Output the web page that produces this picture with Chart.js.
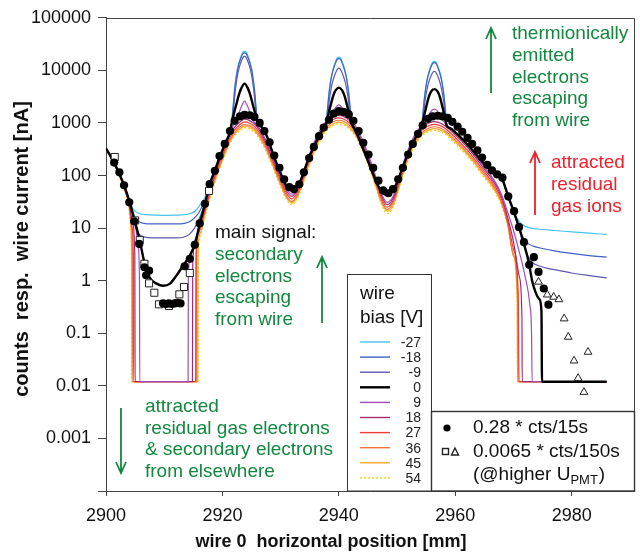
<!DOCTYPE html>
<html>
<head>
<meta charset="utf-8">
<script src="https://cdn.jsdelivr.net/npm/chart.js@4.4.0/dist/chart.umd.min.js"></script>
<style>
  html, body { margin: 0; padding: 0; background: #fff; }
  #wrap { width: 640px; height: 554px; }
</style>
</head>
<body>
<div id="wrap"><canvas id="wireChart" width="640" height="554"></canvas></div>
<script>
// axis ticks
const xTickValues = [2900, 2920, 2940, 2960, 2980];
const yTickValues = [1e-4, 1e-3, 1e-2, 1e-1, 1, 10, 100, 1000, 10000, 100000];
const yTickLabels = ['', '0.001', '0.01', '0.1', '1', '10', '100', '1000', '10000', '100000'];

// wire bias series names
const biasLabels = ['-27', '-18', '-9', '0', '9', '18', '27', '36', '45', '54'];

// pieces where the negative / zero bias curves coincide  [mm, nA]
const envLeftTop = [[2900,330],[2901,212],[2902,128],[2903,70],[2904,33]];
const envRise1 = [[2917.8,68],[2918.7,125],[2919.5,220],[2920.4,390],[2921.3,680]];
const envValley1 = [[2926.4,920],[2926.9,790],[2927.4,640],[2927.9,470],[2928.4,320],[2928.9,225],[2929.4,160],[2929.9,118],[2930.4,86],[2930.9,66],[2931.4,56],[2931.9,53],[2932.4,56],[2932.9,64],[2933.4,79],[2933.9,110],[2934.4,160],[2934.9,225],[2935.4,300],[2935.9,390],[2936.4,510],[2936.9,640],[2937.4,800]];
const envValley2 = [[2942.6,800],[2943.1,620],[2943.7,430],[2944.3,295],[2944.8,215],[2945.3,155],[2945.8,112],[2946.3,82],[2946.8,62],[2947.3,50],[2947.8,44],[2948.3,43],[2948.8,45],[2949.3,53],[2949.8,66],[2950.3,90],[2950.8,130],[2951.3,180],[2951.8,250],[2952.3,330],[2952.8,430],[2953.3,560],[2953.8,700]];
const envFall3 = [[2959.1,800],[2960,660],[2961,520],[2962,400],[2963,300],[2964,220],[2965,165],[2966,125],[2967,100],[2968.1,83]];

// -27 V
const m27Valley = [[2904.5,25],[2905,21],[2905.7,19],[2907,18],[2910,17.5],[2913,17.8],[2914.5,19],[2915.3,21],[2916,26],[2916.6,33],[2917.2,42]];
const m27Peak1 = [[2921.6,1100],[2921.85,2200],[2922.1,4600],[2922.35,7500],[2922.6,11000],[2922.95,15500],[2923.3,19800],[2923.5,22200],[2923.8,23000],[2924.1,22200],[2924.3,19800],[2924.65,15500],[2925,11000],[2925.25,7500],[2925.5,4600],[2925.75,2200],[2926,1100]];
const m27Peak2 = [[2937.8,960],[2938.05,1900],[2938.3,3700],[2938.55,6000],[2938.8,8600],[2939.15,12000],[2939.5,15300],[2939.7,17200],[2940,17800],[2940.3,17200],[2940.5,15300],[2940.85,12000],[2941.2,8600],[2941.45,6000],[2941.7,3700],[2941.95,1900],[2942.2,960]];
const m27Peak3 = [[2954.2,850],[2954.45,1600],[2954.7,3100],[2954.95,5000],[2955.2,7200],[2955.55,10000],[2955.9,12800],[2956.1,14300],[2956.4,14800],[2956.7,14300],[2956.9,12800],[2957.25,10000],[2957.6,7200],[2957.85,5000],[2958.1,3100],[2958.35,1600],[2958.6,850]];
const m27Tail = [[2969,42],[2969.8,24],[2970.5,16],[2971.2,12.5],[2972,10.8],[2973,10],[2975,9.4],[2977,9],[2980,8.5],[2983,8],[2986,7.6]];

// -18 V
const m18Valley = [[2904.5,21],[2905,15.5],[2905.6,13.3],[2906.5,12.3],[2908,12],[2912,12],[2913.5,12.3],[2914.5,13.5],[2915.3,16],[2916,20],[2916.6,27],[2917.2,38]];
const m18Peak1 = [[2921.6,1050],[2921.85,2000],[2922.1,4200],[2922.35,7000],[2922.6,10300],[2922.95,14500],[2923.3,18500],[2923.5,20700],[2923.8,21500],[2924.1,20700],[2924.3,18500],[2924.65,14500],[2925,10300],[2925.25,7000],[2925.5,4200],[2925.75,2000],[2926,1050]];
const m18Peak2 = [[2937.8,960],[2938.05,1800],[2938.3,3500],[2938.55,5700],[2938.8,8100],[2939.15,11300],[2939.5,14400],[2939.7,16200],[2940,16800],[2940.3,16200],[2940.5,14400],[2940.85,11300],[2941.2,8100],[2941.45,5700],[2941.7,3500],[2941.95,1800],[2942.2,960]];
const m18Peak3 = [[2954.2,850],[2954.45,1500],[2954.7,2900],[2954.95,4700],[2955.2,6800],[2955.55,9500],[2955.9,12100],[2956.1,13500],[2956.4,14000],[2956.7,13500],[2956.9,12100],[2957.25,9500],[2957.6,6800],[2957.85,4700],[2958.1,2900],[2958.35,1500],[2958.6,850]];
const m18Tail = [[2969,41],[2970,20],[2970.8,11],[2971.5,7],[2972.3,5.3],[2973.5,4.5],[2975,4.1],[2977,3.7],[2980,3.3],[2983,3],[2986,2.8]];

// -9 V
const m9Valley = [[2904.6,17],[2905.1,10],[2905.7,7.6],[2906.5,6.8],[2908,6.5],[2912,6.5],[2913.3,6.7],[2914.3,7.6],[2915.2,10],[2916,15],[2916.6,22],[2917.2,35]];
const m9Peak1 = [[2921.7,1100],[2921.95,2100],[2922.2,4000],[2922.45,6500],[2922.7,9300],[2923.05,13000],[2923.4,16300],[2923.6,18000],[2923.8,18500],[2924,18000],[2924.2,16300],[2924.55,13000],[2924.9,9300],[2925.15,6500],[2925.4,4000],[2925.65,2100],[2925.9,1100]];
const m9Peak2 = [[2937.9,1000],[2938.15,1700],[2938.4,2900],[2938.65,4300],[2938.9,5900],[2939.25,7900],[2939.6,9800],[2939.8,10700],[2940,11000],[2940.2,10700],[2940.4,9800],[2940.75,7900],[2941.1,5900],[2941.35,4300],[2941.6,2900],[2941.85,1700],[2942.1,1000]];
const m9Peak3 = [[2954.3,900],[2954.55,1500],[2954.8,2600],[2955.05,3800],[2955.3,5200],[2955.65,7000],[2956,8600],[2956.2,9400],[2956.4,9600],[2956.6,9400],[2956.8,8600],[2957.15,7000],[2957.5,5200],[2957.75,3800],[2958,2600],[2958.25,1500],[2958.5,900]];
const m9Tail = [[2969,40],[2970.1,20],[2971,9.5],[2971.7,5],[2972.4,3],[2973.3,2.2],[2974.5,1.9],[2976,1.7],[2978,1.55],[2980,1.4],[2983,1.25],[2986,1.13]];

// 0 V
const zeroValley = [[2905,13],[2905.8,5.8],[2906.6,2.2],[2907.5,1.15],[2908.7,0.88],[2909.8,0.8],[2911,0.88],[2912.1,1.25],[2913.2,1.9],[2914.4,3.0],[2915.3,5.0],[2916.1,12],[2917,29]];
const zeroPeak1 = [[2921.6,1000],[2922,1550],[2922.45,2400],[2922.85,3500],[2923.25,4600],[2923.8,5600],[2924.35,4600],[2924.75,3500],[2925.15,2400],[2925.6,1550],[2926,1100]];
const zeroPeak2 = [[2937.8,960],[2938.2,1450],[2938.6,2200],[2939,3200],[2939.4,4100],[2940,4700],[2940.6,4100],[2941,3200],[2941.4,2200],[2941.8,1450],[2942.2,960]];
const zeroPeak3 = [[2954.2,850],[2954.6,1300],[2955,2000],[2955.4,3000],[2955.8,3900],[2956.4,4400],[2957,3900],[2957.4,3000],[2957.8,2000],[2958.2,1300],[2958.6,850]];
const zeroTail = [[2969.1,40],[2970.1,20],[2971,10],[2971.8,5],[2972.6,2.3],[2973.2,1.0],[2973.8,0.6],[2974.4,0.45],[2974.8,0.27],[2974.9,0.012],[2986,0.012]];

// positive bias curves
const curve9 = [[2900,330],[2901,212],[2902,127],[2903,70],[2904,32],[2905,12],[2905.5,5],[2905.75,1],[2905.8,0.012],[2914.1,0.012],[2914.15,1.2],[2914.6,3.5],[2915.3,6],[2916,10],[2916.5,17],[2917,27],[2918,67],[2919,146],[2920,293],[2921,549],[2921.8,850],[2922.3,1100],[2922.8,1500],[2923.3,2100],[2923.8,2600],[2924.3,2100],[2924.8,1500],[2925.3,1100],[2926.4,780],[2927.3,512],[2928.2,305],[2929.1,171],[2930,98],[2930.9,59],[2931.9,44],[2932.8,56],[2933.7,98],[2934.6,195],[2935.5,366],[2936.4,610],[2937.3,927],[2938.5,1250],[2939,1650],[2939.5,2000],[2940,2200],[2940.5,2000],[2941,1650],[2941.5,1250],[2942.7,927],[2943.6,610],[2944.5,366],[2945.4,195],[2946.3,98],[2947.2,49],[2948.3,31],[2949.3,40],[2950.2,79],[2951.1,171],[2952,329],[2952.9,549],[2953.8,780],[2954.9,1100],[2955.4,1400],[2955.9,1700],[2956.4,1830],[2956.9,1700],[2957.4,1400],[2957.9,1100],[2959.1,805],[2960,647],[2961,500],[2962,378],[2963,281],[2964,201],[2965,144],[2966,104],[2967,71],[2968,42],[2969,20],[2970,9],[2971,3.5],[2972,1.2],[2972.8,0.35],[2973.1,0.1],[2973.2,0.012],[2986,0.012]];
const curve18 = [[2900,325],[2901,210],[2902,125],[2903,68],[2904,30],[2904.6,12],[2904.95,3],[2905,0.012],[2914.85,0.012],[2914.9,2],[2915.4,6],[2916,11],[2916.5,16],[2917,25],[2918,62],[2919,135],[2920,270],[2921,505],[2922,805],[2923,1040],[2923.8,1180],[2924.6,1120],[2925.5,965],[2926.4,715],[2927.3,470],[2928.2,280],[2929.1,157],[2930,90],[2930.9,54],[2931.9,40],[2932.8,52],[2933.7,90],[2934.6,180],[2935.5,335],[2936.4,560],[2937.3,850],[2938.2,1120],[2939.1,1320],[2940,1390],[2940.9,1320],[2941.8,1120],[2942.7,850],[2943.6,560],[2944.5,335],[2945.4,180],[2946.3,90],[2947.2,45],[2948.3,28],[2949.3,37],[2950.2,73],[2951.1,157],[2952,300],[2952.9,505],[2953.8,715],[2954.7,895],[2955.6,1010],[2956.4,1060],[2957.3,1010],[2958.2,895],[2959.1,740],[2960,595],[2961,460],[2962,350],[2963,258],[2964,185],[2965,132],[2966,95],[2967,65],[2968,38],[2969,16],[2970,5.5],[2971,1.2],[2971.45,0.2],[2971.5,0.012],[2986,0.012]];
const curve27 = [[2900,320],[2901,205],[2902,122],[2903,65],[2904,27],[2904.5,10],[2904.7,3],[2904.75,0.012],[2915.4,0.012],[2915.45,3],[2915.9,8],[2916.5,14],[2917,22],[2918,55],[2919,120],[2920,240],[2921,450],[2922,720],[2923,930],[2923.8,1050],[2924.6,1000],[2925.5,860],[2926.4,640],[2927.3,420],[2928.2,250],[2929.1,140],[2930,80],[2930.9,48],[2931.9,36],[2932.8,46],[2933.7,80],[2934.6,160],[2935.5,300],[2936.4,500],[2937.3,760],[2938.2,1000],[2939.1,1180],[2940,1250],[2940.9,1180],[2941.8,1000],[2942.7,760],[2943.6,500],[2944.5,300],[2945.4,160],[2946.3,80],[2947.2,40],[2948.3,25],[2949.3,33],[2950.2,65],[2951.1,140],[2952,270],[2952.9,450],[2953.8,640],[2954.7,800],[2955.6,900],[2956.4,940],[2957.3,900],[2958.2,800],[2959.1,660],[2960,530],[2961,410],[2962,310],[2963,230],[2964,165],[2965,118],[2966,85],[2967,58],[2968,34],[2969,14],[2970,4],[2970.8,0.6],[2970.95,0.012],[2986,0.012]];
const curve36 = [[2900,318],[2901,203],[2902,120],[2903,63],[2904,26],[2904.4,10],[2904.55,2],[2904.6,0.012],[2915.5,0.012],[2915.55,3],[2916,9],[2916.5,13],[2917,20],[2918,50],[2919,108],[2920,216],[2921,405],[2922,650],[2923,840],[2923.8,930],[2924.6,900],[2925.5,775],[2926.4,575],[2927.3,380],[2928.2,225],[2929.1,126],[2930,72],[2930.9,43],[2931.9,32],[2932.8,41],[2933.7,72],[2934.6,144],[2935.5,270],[2936.4,450],[2937.3,684],[2938.2,900],[2939.1,1062],[2940,1125],[2940.9,1062],[2941.8,900],[2942.7,684],[2943.6,450],[2944.5,270],[2945.4,144],[2946.3,72],[2947.2,36],[2948.3,22.5],[2949.3,30],[2950.2,58],[2951.1,126],[2952,243],[2952.9,405],[2953.8,576],[2954.7,720],[2955.6,810],[2956.4,846],[2957.3,810],[2958.2,720],[2959.1,594],[2960,477],[2961,369],[2962,279],[2963,207],[2964,149],[2965,106],[2966,77],[2967,52],[2968,30],[2969,12],[2970,3],[2970.75,0.4],[2970.8,0.012],[2986,0.012]];
const curve45 = [[2900,315],[2901,200],[2902,118],[2903,61],[2904,24],[2904.3,10],[2904.42,2],[2904.45,0.012],[2915.75,0.012],[2915.8,3],[2916.2,8],[2916.6,12],[2917,18],[2918,46],[2919,100],[2920,199],[2921,374],[2922,598],[2923,772],[2923.8,872],[2924.6,830],[2925.5,714],[2926.4,531],[2927.3,349],[2928.2,208],[2929.1,116],[2930,66],[2930.9,40],[2931.9,30],[2932.8,38],[2933.7,66],[2934.6,133],[2935.5,249],[2936.4,415],[2937.3,631],[2938.2,830],[2939.1,979],[2940,1038],[2940.9,979],[2941.8,830],[2942.7,631],[2943.6,415],[2944.5,249],[2945.4,133],[2946.3,66],[2947.2,33],[2948.3,21],[2949.3,27],[2950.2,54],[2951.1,116],[2952,224],[2952.9,374],[2953.8,531],[2954.7,664],[2955.6,747],[2956.4,780],[2957.3,747],[2958.2,664],[2959.1,548],[2960,440],[2961,340],[2962,257],[2963,191],[2964,137],[2965,98],[2966,71],[2967,48],[2968,28],[2969,12],[2970,3],[2970.65,0.4],[2970.7,0.012],[2986,0.012]];
const curve54 = [[2900,312],[2901,197],[2902,116],[2903,59],[2904,22],[2904.28,9],[2904.38,2],[2904.4,0.012],[2915.8,0.012],[2915.85,3],[2916.2,7],[2916.6,11],[2917,17],[2918,42],[2919,92],[2920,185],[2921,347],[2922,554],[2923,716],[2923.8,809],[2924.6,770],[2925.5,662],[2926.4,493],[2927.3,323],[2928.2,193],[2929.1,108],[2930,62],[2930.9,37],[2931.9,28],[2932.8,35],[2933.7,62],[2934.6,123],[2935.5,231],[2936.4,385],[2937.3,585],[2938.2,770],[2939.1,909],[2940,963],[2940.9,909],[2941.8,770],[2942.7,585],[2943.6,385],[2944.5,231],[2945.4,123],[2946.3,62],[2947.2,31],[2948.3,19],[2949.3,25],[2950.2,50],[2951.1,108],[2952,208],[2952.9,347],[2953.8,493],[2954.7,616],[2955.6,693],[2956.4,724],[2957.3,693],[2958.2,616],[2959.1,508],[2960,408],[2961,316],[2962,239],[2963,177],[2964,127],[2965,91],[2966,65],[2967,45],[2968,26],[2969,11],[2970,3],[2970.65,0.4],[2970.7,0.012],[2986,0.012]];

// measured points
const dots15s = [[2901.4,176],[2902.3,115],[2903.1,65],[2904,31],[2904.85,13.5],[2905.7,5],[2906.6,1.8],[2906.9,1.27],[2907.4,1.55],[2909.8,0.37],[2910.3,0.36],[2910.8,0.37],[2911.3,0.36],[2911.8,0.37],[2912.3,0.38],[2912.8,0.37],[2913.5,1.88],[2914.4,2.6],[2915.25,4.8],[2916.1,12.3],[2917,29],[2917.8,69],[2918.7,123],[2919.5,235],[2920.4,400],[2921.3,700],[2922.1,1100],[2923,1330],[2923.8,1420],[2924.7,1400],[2925.5,1300],[2926.4,1000],[2927.2,700],[2928.1,430],[2928.9,240],[2929.8,140],[2930.6,85],[2931.5,60],[2932.3,55],[2933.2,68],[2934,115],[2934.9,215],[2935.7,350],[2936.6,560],[2937.4,820],[2938.3,1150],[2939.1,1500],[2940,1680],[2940.8,1620],[2941.7,1450],[2942.5,1100],[2943.4,700],[2944.2,420],[2945.1,250],[2945.9,140],[2946.8,80],[2947.6,52],[2948.5,46],[2949.3,55],[2950.2,85],[2951,140],[2951.9,250],[2952.7,400],[2953.6,620],[2954.4,900],[2955.3,1200],[2956.1,1330],[2957,1370],[2957.8,1330],[2958.7,1250],[2959.5,1050],[2960.4,850],[2961.2,680],[2962.1,520],[2962.9,400],[2963.8,300],[2964.6,220],[2965.5,160],[2966.3,125],[2967.2,105],[2968.1,91],[2969.1,40],[2970.1,21],[2970.95,10.4],[2971.8,5.4],[2972.7,2.0],[2973.5,2.8],[2974.3,1.47],[2975.2,0.71],[2976,0.35]];
const squares150s = [[2901.5,225],[2905,14],[2905.8,5.9],[2906.6,2.1],[2907.4,0.89],[2908.3,0.59],[2909.1,0.355],[2910.8,0.33],[2912.6,0.55],[2913.4,0.76],[2914.4,1.4],[2917.7,51]];
const triangles150s = [[2974.3,0.95],[2975.8,0.54],[2976.9,0.49],[2977.8,0.44],[2978.7,0.19],[2979.4,0.085],[2980.4,0.03],[2981.1,0.014],[2982.1,0.0076],[2982.8,0.044]];

const curveM27 = [].concat(envLeftTop, m27Valley, envRise1, m27Peak1, envValley1, m27Peak2, envValley2, m27Peak3, envFall3, m27Tail);
const curveM18 = [].concat(envLeftTop, m18Valley, envRise1, m18Peak1, envValley1, m18Peak2, envValley2, m18Peak3, envFall3, m18Tail);
const curveM9 = [].concat(envLeftTop, m9Valley, envRise1, m9Peak1, envValley1, m9Peak2, envValley2, m9Peak3, envFall3, m9Tail);
const curve0 = [].concat(envLeftTop, zeroValley, envRise1, zeroPeak1, envValley1, zeroPeak2, envValley2, zeroPeak3, envFall3, zeroTail);

const curves = [curveM27, curveM18, curveM9, curve0, curve9, curve18, curve27, curve36, curve45, curve54];
const biasColors = ['#45c4ee', '#4062c4', '#5c58b0', '#000000', '#a24cbc', '#a02a70', '#f03c3c', '#f2743a', '#f8a82c', '#f2d414'];
const biasWidths = [1.2, 1.2, 1.2, 2.4, 1.2, 1.2, 1.2, 1.2, 1.2, 1.4];

const green = '#12883e';
const red = '#f0202c';
const fontFam = "'Liberation Sans', Arial, sans-serif";

function toXY(pts) {
    return pts.map(p => ({ x: p[0], y: p[1] }));
}

const datasets = [
    { label: 'dots', data: toXY(dots15s), showLine: false, pointStyle: 'circle', pointRadius: 4.1,
      backgroundColor: '#000', borderColor: '#000', borderWidth: 0 },
    { label: 'squares', data: toXY(squares150s), showLine: false, pointStyle: 'rect', pointRadius: 5,
      backgroundColor: '#fff', borderColor: '#222', borderWidth: 1 },
    { label: 'triangles', data: toXY(triangles150s), showLine: false, pointStyle: 'triangle', pointRadius: 4.5,
      backgroundColor: '#fff', borderColor: '#222', borderWidth: 1 }
];
// draw order: black on top, then the rest
[3, 4, 2, 1, 0, 5, 6, 7, 8, 9].forEach(i => {
    datasets.push({
        label: biasLabels[i],
        data: toXY(curves[i]),
        showLine: true,
        pointRadius: 0,
        borderColor: biasColors[i],
        borderWidth: biasWidths[i],
        borderDash: i === 9 ? [2, 2] : [],
        cubicInterpolationMode: 'monotone',
        fill: false
    });
});

function drawArrow(ctx, x, yFrom, yTo, color) {
    const dir = yTo < yFrom ? -1 : 1;
    ctx.strokeStyle = color;
    ctx.lineWidth = 1.8;
    ctx.beginPath();
    ctx.moveTo(x, yFrom);
    ctx.lineTo(x, yTo);
    ctx.moveTo(x - 5, yTo - dir * 11);
    ctx.lineTo(x, yTo);
    ctx.lineTo(x + 5, yTo - dir * 11);
    ctx.stroke();
}

function drawLines(ctx, lines, x, y0, step, color) {
    ctx.fillStyle = color;
    lines.forEach((t, i) => ctx.fillText(t, x, y0 + i * step));
}

const decorPlugin = {
    id: 'decor',
    beforeDraw(chart) {
        const ctx = chart.ctx;
        ctx.save();
        ctx.fillStyle = '#fff';
        ctx.fillRect(0, 0, chart.width, chart.height);
        ctx.restore();
    },
    afterDraw(chart) {
        const ctx = chart.ctx;
        const a = chart.chartArea;
        ctx.save();

        // frame top / right
        ctx.strokeStyle = '#444';
        ctx.lineWidth = 1;
        ctx.beginPath();
        ctx.moveTo(a.left, Math.round(a.top) + 0.5);
        ctx.lineTo(Math.round(a.right) + 0.5, Math.round(a.top) + 0.5);
        ctx.lineTo(Math.round(a.right) + 0.5, a.bottom);
        ctx.stroke();

        // axis titles
        ctx.fillStyle = '#111';
        ctx.font = 'bold 18px ' + fontFam;
        ctx.textAlign = 'center';
        ctx.textBaseline = 'middle';
        ctx.fillText('wire 0  horizontal position [mm]', 331, 542);
        ctx.save();
        ctx.translate(22, 249);
        ctx.rotate(-Math.PI / 2);
        ctx.font = 'bold 20px ' + fontFam;
        ctx.fillText('counts  resp.  wire current [nA]', 0, 0);
        ctx.restore();

        // annotations
        ctx.textAlign = 'left';
        ctx.font = '19px ' + fontFam;
        drawLines(ctx, ['thermionically', 'emitted', 'electrons', 'escaping', 'from wire'], 512, 34, 21.7, green);
        drawArrow(ctx, 491, 93, 28, green);

        drawLines(ctx, ['attracted', 'residual', 'gas ions'], 551, 163, 21.7, red);
        drawArrow(ctx, 535, 215, 152, red);

        ctx.fillStyle = '#111';
        ctx.fillText('main signal:', 215, 233);
        drawLines(ctx, ['secondary', 'electrons', 'escaping', 'from wire'], 215, 255, 21.5, green);
        drawArrow(ctx, 322, 323, 257, green);

        drawLines(ctx, ['attracted', 'residual gas electrons', '& secondary electrons', 'from elsewhere'], 145, 407, 21.6, green);
        drawArrow(ctx, 121, 408, 473, green);

        // legend box: wire bias
        ctx.fillStyle = '#fff';
        ctx.fillRect(347.5, 274.5, 84, a.bottom - 274.5);
        ctx.strokeStyle = '#333';
        ctx.lineWidth = 1;
        ctx.strokeRect(347.5, 274.5, 84, a.bottom - 274.5);
        ctx.fillStyle = '#111';
        ctx.font = '19px ' + fontFam;
        ctx.fillText('wire', 360, 294);
        ctx.fillText('bias [V]', 360, 318);
        ctx.font = '14px ' + fontFam;
        ctx.textAlign = 'right';
        biasLabels.forEach((lab, i) => {
            const y = 342 + i * 15.1;
            ctx.strokeStyle = biasColors[i];
            ctx.lineWidth = i === 3 ? 2.4 : 1.4;
            ctx.setLineDash(i === 9 ? [2, 2] : []);
            ctx.beginPath();
            ctx.moveTo(360, y);
            ctx.lineTo(390, y);
            ctx.stroke();
            ctx.setLineDash([]);
            ctx.fillStyle = '#222';
            ctx.fillText(lab, 421, y + 1);
        });

        // legend box: measured points
        ctx.fillStyle = '#fff';
        ctx.fillRect(431.5, 411.5, a.right - 431.5, a.bottom - 411.5);
        ctx.strokeStyle = '#333';
        ctx.strokeRect(431.5, 411.5, Math.round(a.right) - 431, a.bottom - 411.5);
        ctx.fillStyle = '#000';
        ctx.beginPath();
        ctx.arc(447, 428, 3.6, 0, Math.PI * 2);
        ctx.fill();
        ctx.strokeStyle = '#222';
        ctx.strokeRect(442.5, 448.5, 6, 6);
        ctx.beginPath();
        ctx.moveTo(455, 448);
        ctx.lineTo(458.5, 455);
        ctx.lineTo(451.5, 455);
        ctx.closePath();
        ctx.stroke();
        ctx.textAlign = 'left';
        ctx.fillStyle = '#111';
        ctx.font = '19px ' + fontFam;
        ctx.fillText('0.28 * cts/15s', 473, 428);
        ctx.fillText('0.0065 * cts/150s', 473, 452);
        const pre = '(@higher U';
        ctx.fillText(pre, 473, 475);
        let xx = 473 + ctx.measureText(pre).width;
        ctx.font = '13px ' + fontFam;
        ctx.fillText('PMT', xx, 480);
        xx += ctx.measureText('PMT').width;
        ctx.font = '19px ' + fontFam;
        ctx.fillText(')', xx + 1, 475);

        ctx.restore();
    }
};

const ctx = document.getElementById('wireChart').getContext('2d');
const wireChart = new Chart(ctx, {
    type: 'scatter',
    data: { datasets: datasets },
    options: {
        responsive: false,
        animation: false,
        devicePixelRatio: 1,
        layout: { padding: { top: 16, right: 5, left: 0, bottom: 0 } },
        plugins: {
            legend: { display: false },
            tooltip: { enabled: false }
        },
        scales: {
            x: {
                type: 'linear',
                min: 2900,
                max: 2990.7,
                afterBuildTicks: scale => { scale.ticks = xTickValues.map(v => ({ value: v })); },
                afterFit: scale => { scale.height = 63; },
                grid: { drawOnChartArea: false, color: '#444', tickLength: 5 },
                border: { color: '#444' },
                ticks: {
                    color: '#111',
                    font: { size: 18, family: fontFam },
                    padding: 9,
                    maxRotation: 0,
                    callback: value => String(value)
                }
            },
            y: {
                type: 'logarithmic',
                min: 1e-4,
                max: 1e5,
                afterBuildTicks: scale => { scale.ticks = yTickValues.map(v => ({ value: v })); },
                afterFit: scale => { scale.width = 106; },
                grid: { drawOnChartArea: false, color: '#444', tickLength: 8 },
                border: { color: '#444' },
                ticks: {
                    color: '#111',
                    font: { size: 18, family: fontFam },
                    padding: 7,
                    callback: (value, index) => yTickLabels[index]
                }
            }
        }
    },
    plugins: [decorPlugin]
});
</script>
</body>
</html>
